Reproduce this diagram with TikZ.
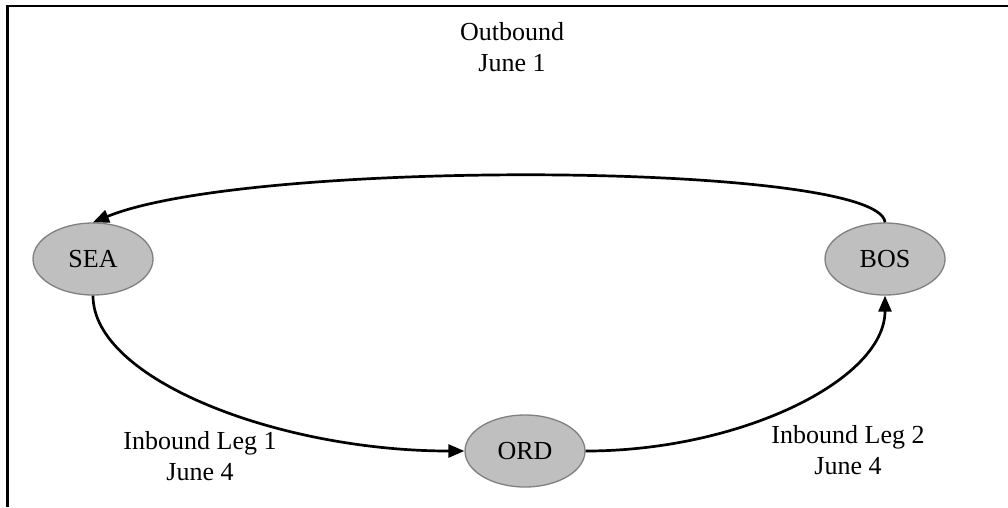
\documentclass[tikz,border=0pt]{standalone}
\usepackage{fontspec}
\setmainfont{Liberation Serif}
\usetikzlibrary{shapes.geometric,arrows.meta}
\tikzset{
  airport/.style={ellipse, draw=black!50, line width=1.3pt, fill=black!25,
    minimum width=120pt, minimum height=72pt, inner sep=0pt,
    font=\fontsize{26}{30}\selectfont},
  leg/.style={line width=2.7pt, -{Triangle[length=16pt,width=13pt]}},
  lbl/.style={align=center, font=\fontsize{26}{31}\selectfont, inner sep=0pt, anchor=base},
  frame/.style={line width=2.5pt}
}
\begin{document}
\begin{tikzpicture}[x=1pt,y=-1pt]
\useasboundingbox (0,0) rectangle (1008,507);
\draw[frame] (7.5,507) coordinate (fl) -- (7.5,6) coordinate (fc) -- (1008,6) coordinate (fr);
\node[airport] (SEA) at (93,259) {SEA};
\node[airport] (BOS) at (885,259) {BOS};
\node[airport] (ORD) at (525,451) {ORD};
\node[lbl] (out1) at (512,40) {Outbound};
\node[lbl] (out2) at (512,71) {June 1};
\node[lbl] (in11) at (200,449) {Inbound Leg 1};
\node[lbl] (in12) at (200,480) {June 4};
\node[lbl] (in21) at (848,443) {Inbound Leg 2};
\node[lbl] (in22) at (848,474) {June 4};
\draw[leg] (BOS.north) .. controls (880,162) and (250,158) .. (SEA.north);
\draw[leg] (SEA.south) .. controls (93,380) and (280,451) .. (ORD.west);
\draw[leg] (ORD.east) .. controls (740,451) and (885,380) .. (BOS.south);
\end{tikzpicture}
\end{document}
